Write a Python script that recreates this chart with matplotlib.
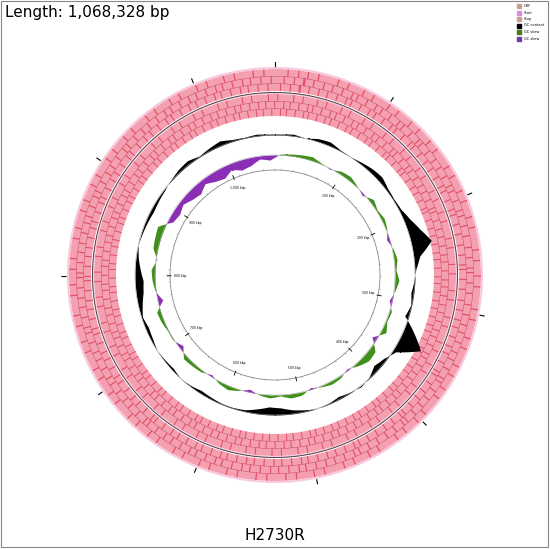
import numpy as np
import matplotlib
matplotlib.use("Agg")
import matplotlib.pyplot as plt
from matplotlib.patches import Rectangle

genome_len = 1068328
title = "H2730R"
length_label = "Length: 1,068,328 bp"
legend_labels = ["ORF", "Start", "Stop", "GC content", "GC skew", "GC skew"]
legend_colors = ["#c9a08e", "#d58fd8", "#c9a08e", "#000000", "#4d7a1a", "#6a3fa0"]
tick_labels = ["100 kbp", "200 kbp", "300 kbp", "400 kbp", "500 kbp",
               "600 kbp", "700 kbp", "800 kbp", "900 kbp", "1,000 kbp"]

# GC content deviation per 5-degree window (clockwise from top)
gc_content = [1, 2, 0, 3, 4, 1, 0, 2, 4, 5, 2, 1, 2, 6, 12, 20, 6, 1,
              -1, -3, -1, -4, 10, 24, 3, -3, -6, -1, 1, -1, -3, -1, 0, -2, -4, -7,
              -8, -5, -2, -1, -1, -2, -3, -1, 0, -2, -1, 0, -2, -3, -1, -4, -7, -8,
              -5, -2, 0, -1, -2, -3, -2, -1, 1, 3, 4, 1, 3, 5, 2, 1, 2, 1]
# GC skew per 5-degree window
gc_skew = [1, 2, 3, 4, 1, -1, 3, 4, 1, -2, 4, 1, 3, 1, -3, 1, 3, 1,
           4, 1, -3, 2, 1, 5, -5, 6, 7, 3, -2, 2, 3, 1, -2, 3, 4, 1,
           3, 1, -3, 1, 4, 2, -2, 2, 3, 4, -4, 1, 1, 3, 4, -5, 1, 3,
           4, -1, 5, 6, 7, -5, -7, -4, -8, -10, -5, -9, -11, -6, -10, -8, -3, -5]
# darker ORF stripes (kbp)
orf_dark_fwd = [5, 22, 48, 71, 95, 118, 140, 166, 189, 212, 240, 262, 290, 315, 340, 362,
                388, 410, 437, 460, 486, 510, 535, 560, 584, 608, 633, 655, 680, 704,
                729, 752, 778, 800, 826, 850, 873, 898, 921, 946, 970, 995, 1019, 1044]
orf_dark_rev = [12, 35, 59, 83, 107, 130, 153, 178, 200, 226, 251, 276, 302, 327, 350, 375,
                399, 423, 448, 473, 497, 522, 547, 571, 596, 620, 644, 668, 692, 716,
                740, 765, 789, 813, 838, 862, 886, 910, 934, 958, 982, 1007, 1031, 1056]

fig = plt.figure(figsize=(5.5, 5.49), dpi=100)
frame = fig.add_axes([0, 0, 1, 1])
frame.set_xlim(0, 550); frame.set_ylim(549, 0); frame.axis("off")
frame.add_patch(Rectangle((1, 1), 547, 546, fill=False, ec="#888888", lw=0.8))
frame.text(5, 12, length_label, fontsize=11, va="center", ha="left")
frame.text(275, 536, title, fontsize=11, va="center", ha="center")
for i, (lab, col) in enumerate(zip(legend_labels, legend_colors)):
    y = 6 + i * 6.5
    frame.add_patch(Rectangle((517, y - 2), 4, 4, color=col))
    frame.text(524, y, lab, fontsize=2.5, va="center")

ax = fig.add_axes([0, (549 - 550) / 549, 1, 550 / 549], projection="polar")
ax.set_theta_zero_location("N"); ax.set_theta_direction(-1)
ax.set_ylim(0, 275); ax.axis("off")

def ang(bp):
    return 2 * np.pi * np.asarray(bp, float) / genome_len

full = np.linspace(0, 2 * np.pi, 720)
for r0, r1, dark in [(184, 206, orf_dark_fwd), (159, 181, orf_dark_rev)]:
    ax.bar(0, r1 - r0, width=2 * np.pi, bottom=r0, color="#f4a0b0", lw=0)
    for k in range(8):
        ax.bar(ang(np.array(dark) * 1000 + k * 3000), (r1 - r0) / 3, width=0.006,
               bottom=r0 + (k % 3) * (r1 - r0) / 3, color="#dc3a52", lw=0, alpha=0.8)
    ax.bar(0, 2, width=2 * np.pi, bottom=r1, color="#f8c9de", lw=0)
    for f in (1 / 3, 2 / 3):
        ax.plot(full, np.full_like(full, r0 + f * (r1 - r0)), color="#c04060", lw=0.3)
ax.plot(full, np.full_like(full, 182.5), color="#333333", lw=0.6)
for t in range(0, 1068, 100):
    ax.plot([ang(t * 1000)] * 2, [209, 213], color="black", lw=0.8)

th = np.deg2rad(np.arange(0, 360, 5) + 2.5)
thc = np.append(th, th[0] + 2 * np.pi)
dense = np.linspace(th[0], th[0] + 2 * np.pi, 1441)

def ring(values):
    v = np.append(values, values[0]).astype(float)
    return np.interp(dense, thc, v)

gcb = 140
gv = ring(gc_content)
ax.fill_between(dense, gcb, gcb + gv, color="black", lw=0)
ax.plot(full, np.full_like(full, gcb), color="#999999", lw=0.4)

skb = 120
sv = ring(gc_skew)
ax.fill_between(dense, skb, skb + np.clip(sv, 0, None), color="#3f8f1a", lw=0)
ax.fill_between(dense, skb, skb + np.clip(sv, None, 0), color="#8a2fb5", lw=0)
ax.plot(full, np.full_like(full, skb), color="#aaaaaa", lw=0.4)

ax.plot(full, np.full_like(full, 105), color="#888888", lw=0.6)
for i, lab in enumerate(tick_labels):
    a = ang((i + 1) * 100000)
    ax.plot([a, a], [104, 108], color="black", lw=0.6)
    ax.text(a, 95, lab, fontsize=2.2, ha="center", va="center")
for t in range(10000, 1068000, 20000):
    ax.plot([ang(t)] * 2, [105, 106.5], color="#888888", lw=0.3)

fig.savefig("out.png", dpi=100)
